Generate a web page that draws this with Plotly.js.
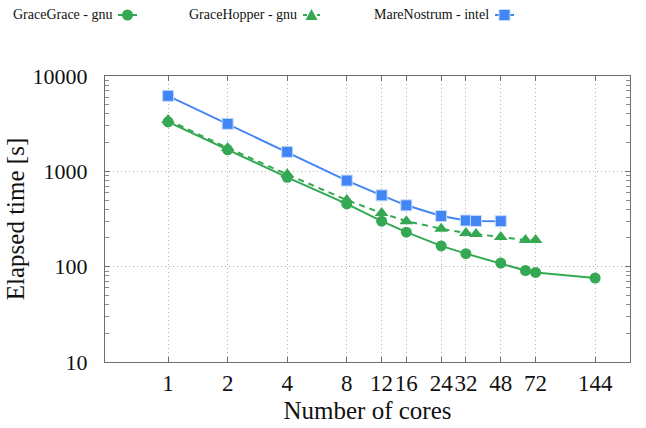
<!DOCTYPE html>
<html>
<head>
<meta charset="utf-8">
<script src="https://cdn.plot.ly/plotly-3.0.1.min.js"></script>
<style>
  html, body { margin: 0; padding: 0; background: #fff; }
  #chart { width: 646px; height: 428px; }
</style>
</head>
<body>
<div id="chart"></div>
<script>
// Strong-scaling runs: elapsed wall time per core count
const coresGraceGrace = [1, 2, 4, 8, 12, 16, 24, 32, 48, 64, 72, 144];
const timeGraceGrace  = [3300, 1680, 865, 455, 300, 230, 165, 137, 109, 91, 87, 76];

const coresGraceHopper = [1, 2, 4, 8, 12, 16, 24, 32, 36, 48, 64, 72];
const timeGraceHopper  = [3450, 1760, 930, 500, 365, 300, 250, 225, 220, 205, 190, 190];

const coresMareNostrum = [1, 2, 4, 8, 12, 16, 24, 32, 36, 48];
const timeMareNostrum  = [6200, 3150, 1600, 800, 560, 440, 340, 305, 302, 300];

const xTickValues = [1, 2, 4, 8, 12, 16, 24, 32, 48, 72, 144];
const xTickLabels = ['1', '2', '4', '8', '12', '16', '24', '32', '48', '72', '144'];
const yTickValues = [10, 100, 1000, 10000];
const yTickLabels = ['10', '100', '1000', '10000'];

const seriesNames = ['GraceGrace - gnu', 'GraceHopper - gnu', 'MareNostrum - intel'];

const GREEN = '#34a853';
const BLUE = '#4285f4';
const SERIF = '"Liberation Serif", "DejaVu Serif", serif';

// minor ticks at 2..9 of every decade on the time axis
const yMinorTicks = [];
for (let d = 10; d < 10000; d *= 10) {
  for (let m = 2; m <= 9; m++) yMinorTicks.push(m * d);
}

const W = 646, H = 428;
const M = { l: 105, r: 16, t: 76, b: 66 };
const plotW = W - M.l - M.r, plotH = H - M.t - M.b;
// pixel -> paper coordinates (for the key drawn above the plot)
const px = v => (v - M.l) / plotW;
const py = v => (H - M.b - v) / plotH;

const traces = [
  {
    x: coresGraceGrace, y: timeGraceGrace, name: seriesNames[0],
    mode: 'lines+markers', type: 'scatter',
    line: { color: GREEN, width: 2 },
    marker: { symbol: 'circle', size: 11, color: GREEN }
  },
  {
    x: coresGraceHopper, y: timeGraceHopper, name: seriesNames[1],
    mode: 'lines+markers', type: 'scatter',
    line: { color: GREEN, width: 2, dash: '6px,5px' },
    marker: { symbol: 'triangle-up', size: 12, color: GREEN }
  },
  {
    x: coresMareNostrum, y: timeMareNostrum, name: seriesNames[2],
    mode: 'lines+markers', type: 'scatter',
    line: { color: BLUE, width: 2 },
    marker: { symbol: 'square', size: 11, color: BLUE, line: { color: '#c6dafc', width: 1 } }
  }
];

// Key: label text followed by a short line sample with the marker
const keyY = 15;
const keys = [
  { text: seriesNames[0], tx: 11, lx0: 118, lx1: 137, color: GREEN, dash: 'solid', sym: 'circle' },
  { text: seriesNames[1], tx: 187, lx0: 303, lx1: 320, color: GREEN, dash: 'dash', sym: 'triangle' },
  { text: seriesNames[2], tx: 372, lx0: 495, lx1: 514, color: BLUE, dash: 'solid', sym: 'square' }
];

const annotations = [];
const shapes = [];
keys.forEach(k => {
  annotations.push({
    xref: 'paper', yref: 'paper', x: px(k.tx), y: py(keyY),
    xanchor: 'left', yanchor: 'middle', showarrow: false,
    text: k.text, font: { family: SERIF, size: 14, color: '#111' }
  });
  shapes.push({
    type: 'line', xref: 'paper', yref: 'paper',
    x0: px(k.lx0), x1: px(k.lx1), y0: py(keyY), y1: py(keyY),
    line: { color: k.color, width: 2, dash: k.dash === 'dash' ? '4px,3px' : 'solid' }
  });
  const cx = (k.lx0 + k.lx1) / 2;
  if (k.sym === 'circle') {
    const r = 5.5;
    shapes.push({ type: 'circle', xref: 'paper', yref: 'paper',
      x0: px(cx - r), x1: px(cx + r), y0: py(keyY + r), y1: py(keyY - r),
      fillcolor: k.color, line: { width: 0 } });
  } else if (k.sym === 'square') {
    const r = 5.5;
    shapes.push({ type: 'rect', xref: 'paper', yref: 'paper',
      x0: px(cx - r), x1: px(cx + r), y0: py(keyY + r), y1: py(keyY - r),
      fillcolor: k.color, line: { color: '#c6dafc', width: 1 } });
  } else {
    const h = 6;
    const path = 'M ' + px(cx - h) + ' ' + py(keyY + 5) +
                 ' L ' + px(cx + h) + ' ' + py(keyY + 5) +
                 ' L ' + px(cx) + ' ' + py(keyY - 6) + ' Z';
    shapes.push({ type: 'path', xref: 'paper', yref: 'paper', path: path,
      fillcolor: k.color, line: { width: 0 } });
  }
});

const axisCommon = {
  type: 'log',
  showline: true, linecolor: '#6e6e6e', linewidth: 1,
  mirror: 'allticks',
  ticks: 'inside', ticklen: 5, tickcolor: '#6e6e6e', tickwidth: 1,
  showgrid: true, gridcolor: '#b5b5b5', griddash: '1px,3px', gridwidth: 1,
  zeroline: false,
  tickfont: { family: SERIF, size: 23, color: '#111' }
};

const layout = {
  width: W, height: H,
  margin: M,
  paper_bgcolor: '#fff', plot_bgcolor: '#fff',
  showlegend: false,
  xaxis: Object.assign({}, axisCommon, {
    range: [Math.log10(0.48), Math.log10(216)],
    tickmode: 'array', tickvals: xTickValues, ticktext: xTickLabels,
    tickangle: 0,
    ticklabelstandoff: 0,
    title: { text: 'Number of cores', font: { family: SERIF, size: 25, color: '#111' }, standoff: 6 }
  }),
  yaxis: Object.assign({}, axisCommon, {
    range: [1, 4],
    tickmode: 'array', tickvals: yTickValues, ticktext: yTickLabels,
    tickfont: { family: SERIF, size: 22, color: '#111' },
    ticklabelstandoff: 12,
    minor: { tickmode: 'array', tickvals: yMinorTicks, ticks: 'inside', ticklen: 4,
             tickcolor: '#8a8a8a', tickwidth: 1, showgrid: false },
    title: { text: 'Elapsed time [s]', font: { family: SERIF, size: 25, color: '#111' }, standoff: 0 }
  }),
  annotations: annotations,
  shapes: shapes
};

Plotly.newPlot('chart', traces, layout, { displayModeBar: false, staticPlot: true });
</script>
</body>
</html>
